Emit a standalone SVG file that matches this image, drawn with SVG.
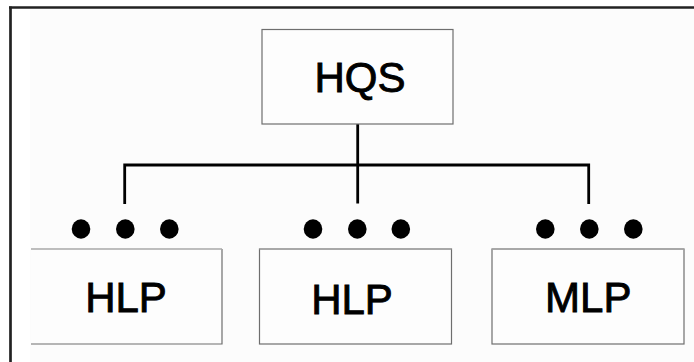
<svg xmlns="http://www.w3.org/2000/svg" width="694" height="362" viewBox="0 0 694 362">
<style>
.box{fill:#fdfdfd;stroke:#6e6e6e;stroke-width:1.2}
.topedge{stroke:#a8a8a8;stroke-width:1.5}
.lbl{font-family:"Liberation Sans",Arial,sans-serif;font-size:42px;fill:#000;stroke:#000;stroke-width:0.9;text-anchor:middle}
.conn{stroke:#000;stroke-width:2.8;fill:none}
.dot{fill:#000}
</style>
<rect x="0" y="0" width="694" height="362" fill="#ffffff"/>
<rect x="30" y="9" width="664" height="353" fill="#fcfcfc"/>
<g id="frame">
<line x1="9" y1="7.5" x2="694" y2="7.5" stroke="#222" stroke-width="2.7"/>
<line x1="10.5" y1="6.5" x2="10.5" y2="362" stroke="#222" stroke-width="2.7"/>
</g>
<g id="connectors">
<path class="conn" d="M357.7 124 V203.5"/>
<path class="conn" d="M124.7 204 V165 H588.7 V204"/>
</g>
<g id="node-hqs">
<rect class="box" x="262" y="29.5" width="191" height="94.5"/>
<text class="lbl" x="360" y="91.7">HQS</text>
</g>
<g id="dots-left">
<ellipse class="dot" cx="81" cy="229" rx="9.3" ry="9.7"/>
<ellipse class="dot" cx="125.3" cy="229" rx="9.3" ry="9.7"/>
<ellipse class="dot" cx="169.3" cy="229" rx="9.3" ry="9.7"/>
</g>
<g id="dots-middle">
<ellipse class="dot" cx="313" cy="229" rx="9.3" ry="9.7"/>
<ellipse class="dot" cx="357.3" cy="229" rx="9.3" ry="9.7"/>
<ellipse class="dot" cx="400.8" cy="229" rx="9.3" ry="9.7"/>
</g>
<g id="dots-right">
<ellipse class="dot" cx="545.3" cy="229" rx="9.3" ry="9.7"/>
<ellipse class="dot" cx="589.3" cy="229" rx="9.3" ry="9.7"/>
<ellipse class="dot" cx="633.3" cy="229" rx="9.3" ry="9.7"/>
</g>
<g id="node-hlp-left">
<rect x="31" y="249" width="191" height="95" fill="#fdfdfd"/>
<path class="box" style="fill:none" d="M31 344 H222 V249"/>
<line class="topedge" x1="31" y1="249" x2="222" y2="249"/>
<text class="lbl" x="126" y="311.7">HLP</text>
</g>
<g id="node-hlp-middle">
<rect class="box" x="259.5" y="249" width="192" height="95"/>
<line class="topedge" x1="259.5" y1="249" x2="451.5" y2="249"/>
<text class="lbl" x="352" y="314">HLP</text>
</g>
<g id="node-mlp">
<rect class="box" x="492" y="249" width="192" height="95"/>
<line class="topedge" x1="492" y1="249" x2="684" y2="249"/>
<text class="lbl" x="588.3" y="311.7">MLP</text>
</g>
</svg>
